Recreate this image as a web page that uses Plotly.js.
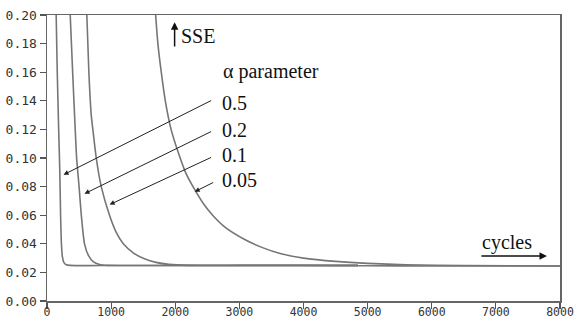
<!DOCTYPE html>
<html>
<head>
<meta charset="utf-8">
<script src="https://cdn.plot.ly/plotly-3.0.1.min.js"></script>
<style>html,body{margin:0;padding:0;background:#fff;}#chart{width:574px;height:325px;}</style>
</head>
<body>
<div id="chart"></div>
<script>
// Series: SSE vs training cycles for several alpha values
const alphaLabels = ["0.5", "0.2", "0.1", "0.05"];

const cycles_a05 = [143, 160, 182, 200, 212, 225, 240, 262, 300, 360, 1000, 2000, 3000, 4000, 5000, 6000, 7000, 8000];
const sse_a05    = [0.20, 0.16, 0.12, 0.09, 0.06, 0.04, 0.031, 0.0270, 0.0254, 0.0249, 0.0248, 0.0248, 0.0248, 0.0248, 0.0246, 0.0245, 0.0245, 0.0245];

const cycles_a02 = [362, 400, 440, 462, 500, 535, 585, 650, 720, 820, 950, 2000, 3000, 4000, 4850];
const sse_a02    = [0.20, 0.16, 0.12, 0.10, 0.08, 0.06, 0.04, 0.0315, 0.0275, 0.0255, 0.0249, 0.0249, 0.0249, 0.0249, 0.0249];

const cycles_a01 = [621, 653, 690, 715, 768, 846, 975, 1080, 1190, 1350, 1520, 1700, 1900, 2200, 3000, 4000, 4850];
const sse_a01    = [0.20, 0.16, 0.13, 0.12, 0.10, 0.08, 0.06, 0.048, 0.040, 0.0335, 0.0295, 0.0270, 0.0256, 0.0249, 0.0249, 0.0249, 0.0249];

const cycles_a005 = [1694, 1729, 1782, 1845, 1935, 2038, 2160, 2302, 2440, 2583, 2780, 3083, 3350, 3650, 4000, 4500, 5000, 5600, 6500, 8000];
const sse_a005    = [0.20, 0.18, 0.16, 0.14, 0.12, 0.105, 0.090, 0.078, 0.068, 0.060, 0.0515, 0.043, 0.0375, 0.0330, 0.0300, 0.0277, 0.0263, 0.0254, 0.0248, 0.0245];

// Arrow heads (on curves) and tails (near labels), in data units
const arrowHeadX = [258, 585, 976, 2303];
const arrowHeadY = [0.0883, 0.0750, 0.0674, 0.0764];
const arrowTailX = [2583, 2583, 2583, 2615];
const arrowTailY = [0.1407, 0.1190, 0.1009, 0.0834];
const labelX = [2705, 2705, 2705, 2705];
const labelY = [0.1386, 0.1197, 0.1023, 0.0848];

const xTicks = [0, 1000, 2000, 3000, 4000, 5000, 6000, 7000, 8000];
const yTicks = [0.00, 0.02, 0.04, 0.06, 0.08, 0.10, 0.12, 0.14, 0.16, 0.18, 0.20];

const lineStyle = {color: '#767676', width: 1.6, shape: 'spline', smoothing: 0.6};
const series = [[cycles_a05, sse_a05], [cycles_a02, sse_a02], [cycles_a01, sse_a01], [cycles_a005, sse_a005]];
const traces = series.map((s, i) => ({
  x: s[0], y: s[1], type: 'scatter', mode: 'lines', name: alphaLabels[i],
  line: Object.assign({}, lineStyle), hoverinfo: 'skip'
}));

const serif = {family: 'Liberation Serif, Times New Roman, serif', size: 20, color: '#111'};
const annotations = [];
for (let i = 0; i < alphaLabels.length; i++) {
  annotations.push({
    x: arrowHeadX[i], y: arrowHeadY[i], xref: 'x', yref: 'y',
    ax: arrowTailX[i], ay: arrowTailY[i], axref: 'x', ayref: 'y',
    text: '', showarrow: true, arrowhead: 2, arrowsize: 1, arrowwidth: 1, arrowcolor: '#222', standoff: 0
  });
  annotations.push({
    x: labelX[i], y: labelY[i], xref: 'x', yref: 'y', text: alphaLabels[i],
    showarrow: false, xanchor: 'left', yanchor: 'middle', font: serif
  });
}
annotations.push({x: 2708, y: 0.1605, xref: 'x', yref: 'y', text: 'α parameter', showarrow: false, xanchor: 'left', yanchor: 'middle', font: serif});
annotations.push({x: 2054, y: 0.1853, xref: 'x', yref: 'y', text: 'SSE', showarrow: false, xanchor: 'left', yanchor: 'middle', font: serif});
// vertical arrow before SSE
annotations.push({x: 1990, y: 0.195, xref: 'x', yref: 'y', ax: 1990, ay: 0.177, axref: 'x', ayref: 'y', text: '', showarrow: true, arrowhead: 2, arrowsize: 1, arrowwidth: 1.5, arrowcolor: '#111', standoff: 0});
annotations.push({x: 6751, y: 0.0408, xref: 'x', yref: 'y', text: 'cycles', showarrow: false, xanchor: 'left', yanchor: 'middle', font: serif});
annotations.push({x: 7797, y: 0.0314, xref: 'x', yref: 'y', ax: 6751, ay: 0.0314, axref: 'x', ayref: 'y', text: '', showarrow: true, arrowhead: 2, arrowsize: 1, arrowwidth: 1.5, arrowcolor: '#111', standoff: 0});

const monoY = {family: 'DejaVu Sans Mono, monospace', size: 13, color: '#333'};
const monoX = {family: 'DejaVu Sans Mono, monospace', size: 11.5, color: '#333'};
const layout = {
  width: 574, height: 325,
  margin: {l: 47, r: 14, t: 15, b: 24, pad: 0},
  paper_bgcolor: '#fff', plot_bgcolor: '#fff',
  showlegend: false,
  xaxis: {range: [0, 8000], tickvals: xTicks, ticktext: xTicks.map(String), showgrid: false, zeroline: false,
          showline: true, mirror: true, linecolor: '#666', linewidth: 1.5, ticks: 'outside', ticklen: 6, tickwidth: 1.2, tickcolor: '#555',
          tickfont: monoX, ticklabeloverflow: 'allow', ticklabelstandoff: -6},
  yaxis: {range: [0, 0.2], tickvals: yTicks, ticktext: yTicks.map(v => v.toFixed(2)), showgrid: false, zeroline: false,
          showline: true, mirror: true, linecolor: '#666', linewidth: 1.5, ticks: 'outside', ticklen: 6, tickwidth: 1.2, tickcolor: '#555',
          tickfont: monoY, ticklabeloverflow: 'allow'},
  annotations: annotations
};
Plotly.newPlot('chart', traces, layout, {staticPlot: true, displayModeBar: false});
</script>
</body>
</html>
